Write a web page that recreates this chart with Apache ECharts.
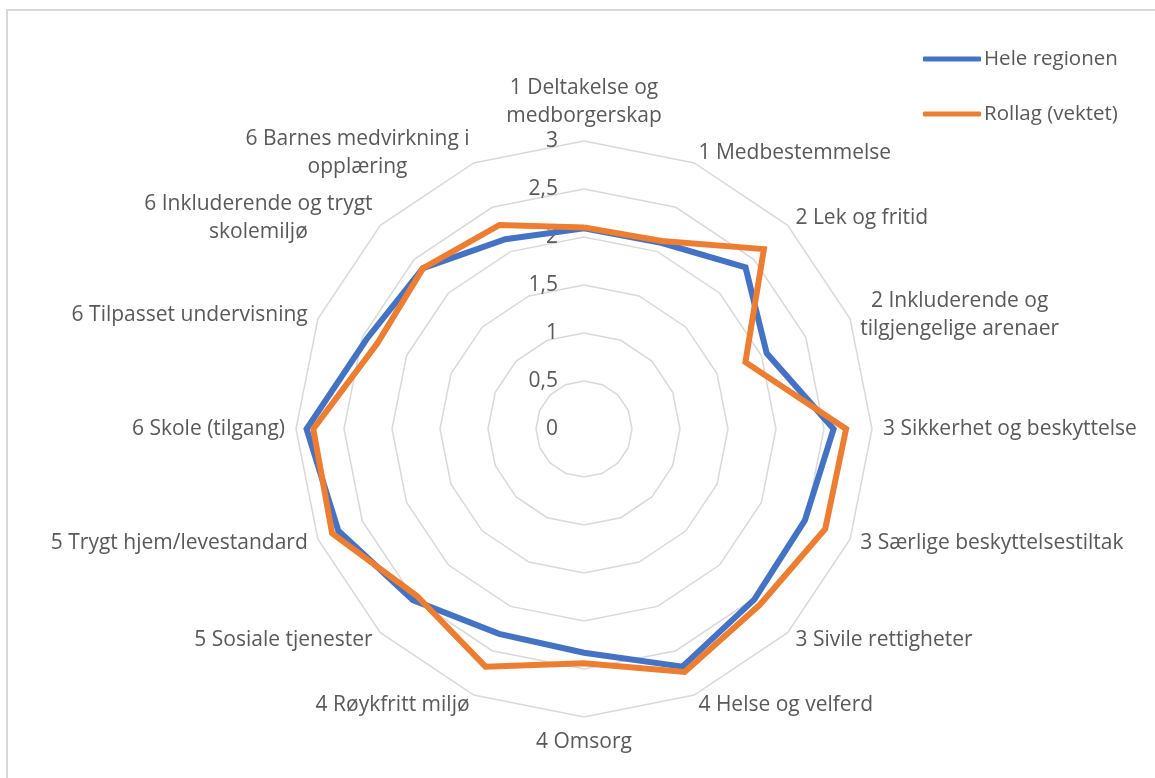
<!DOCTYPE html>
<html>
<head>
<meta charset="utf-8">
<script src="https://cdn.jsdelivr.net/npm/echarts@6/dist/echarts.min.js"></script>
<style>
  html, body { margin: 0; padding: 0; background: #fff; overflow: hidden; }
  #frame { position: absolute; left: 6px; top: 9px; width: 1300px; height: 900px;
           border-left: 2px solid #d9d9d9; border-top: 2px solid #d9d9d9; }
  #chart { position: absolute; left: 0; top: 0; width: 1155px; height: 778px; }
</style>
</head>
<body>
<div id="frame"></div>
<div id="chart"></div>
<script>
const categories = [
  "1 Deltakelse og\nmedborgerskap",
  "1 Medbestemmelse",
  "2 Lek og fritid",
  "2 Inkluderende og\ntilgjengelige arenaer",
  "3 Sikkerhet og beskyttelse",
  "3 Særlige beskyttelsestiltak",
  "3 Sivile rettigheter",
  "4 Helse og velferd",
  "4 Omsorg",
  "4 Røykfritt miljø",
  "5 Sosiale tjenester",
  "5 Trygt hjem/levestandard",
  "6 Skole (tilgang)",
  "6 Tilpasset undervisning",
  "6 Inkluderende og trygt\nskolemiljø",
  "6 Barnes medvirkning i\nopplæring"
];
const heleRegionen = [2.09, 2.10, 2.38, 2.06, 2.60, 2.49, 2.51, 2.68, 2.33, 2.31, 2.52, 2.77, 2.89, 2.45, 2.37, 2.14];
const rollag       = [2.10, 2.12, 2.65, 1.82, 2.73, 2.72, 2.59, 2.74, 2.44, 2.68, 2.46, 2.84, 2.82, 2.33, 2.37, 2.30];
const seriesNames = ["Hele regionen", "Rollag (vektet)"];
const axisMax = 3;

// ECharts places indicators counter-clockwise; Excel places them clockwise.
const order = [0];
for (let i = categories.length - 1; i >= 1; i--) order.push(i);
const pick = arr => order.map(i => arr[i]);

const FONT = '"Open Sans", "Noto Sans", sans-serif';
const TXT = '#595959';
const FS = 21;

const indicator = order.map((i, k) => {
  const o = { name: categories[i], min: 0, max: axisMax };
  if (k === 0) o.axisLabel = { show: true };
  return o;
});

const chart = echarts.init(document.getElementById('chart'));
chart.setOption({
  animation: false,
  legend: {
    orient: 'vertical',
    left: 918, top: 41,
    icon: 'roundRect',
    itemWidth: 58, itemHeight: 5,
    itemGap: 29,
    textStyle: { color: TXT, fontFamily: FONT, fontSize: 20.5, lineHeight: 26, padding: [0,0,0,-2] },
    data: seriesNames
  },
  radar: {
    center: [584, 429],
    radius: 288,
    startAngle: 90,
    splitNumber: 6,
    shape: 'polygon',
    nameGap: 11,
    indicator: indicator,
    axisName: {
      color: TXT, fontFamily: FONT, fontSize: FS, lineHeight: 28,
      formatter: function (v) {
        return v.split('\n').map(s => '{c|' + s + '}').join('\n');
      },
      rich: { c: { align: 'center', color: TXT, fontFamily: FONT, fontSize: FS, lineHeight: 28 } }
    },
    axisLine: { show: false },
    axisTick: { show: false },
    axisLabel: {
      show: false, color: TXT, fontFamily: FONT, fontSize: FS, margin: 26,
      formatter: v => String(v).replace('.', ',')
    },
    splitLine: { lineStyle: { color: '#d9d9d9', width: 1.5 } },
    splitArea: { show: false }
  },
  series: [{
    type: 'radar',
    symbol: 'none',
    data: [
      { name: seriesNames[0], value: pick(heleRegionen),
        lineStyle: { color: '#4472C4', width: 6, join: 'miter' }, itemStyle: { color: '#4472C4' } },
      { name: seriesNames[1], value: pick(rollag),
        lineStyle: { color: '#ED7D31', width: 6, join: 'miter' }, itemStyle: { color: '#ED7D31' } }
    ]
  }]
});
</script>
</body>
</html>
